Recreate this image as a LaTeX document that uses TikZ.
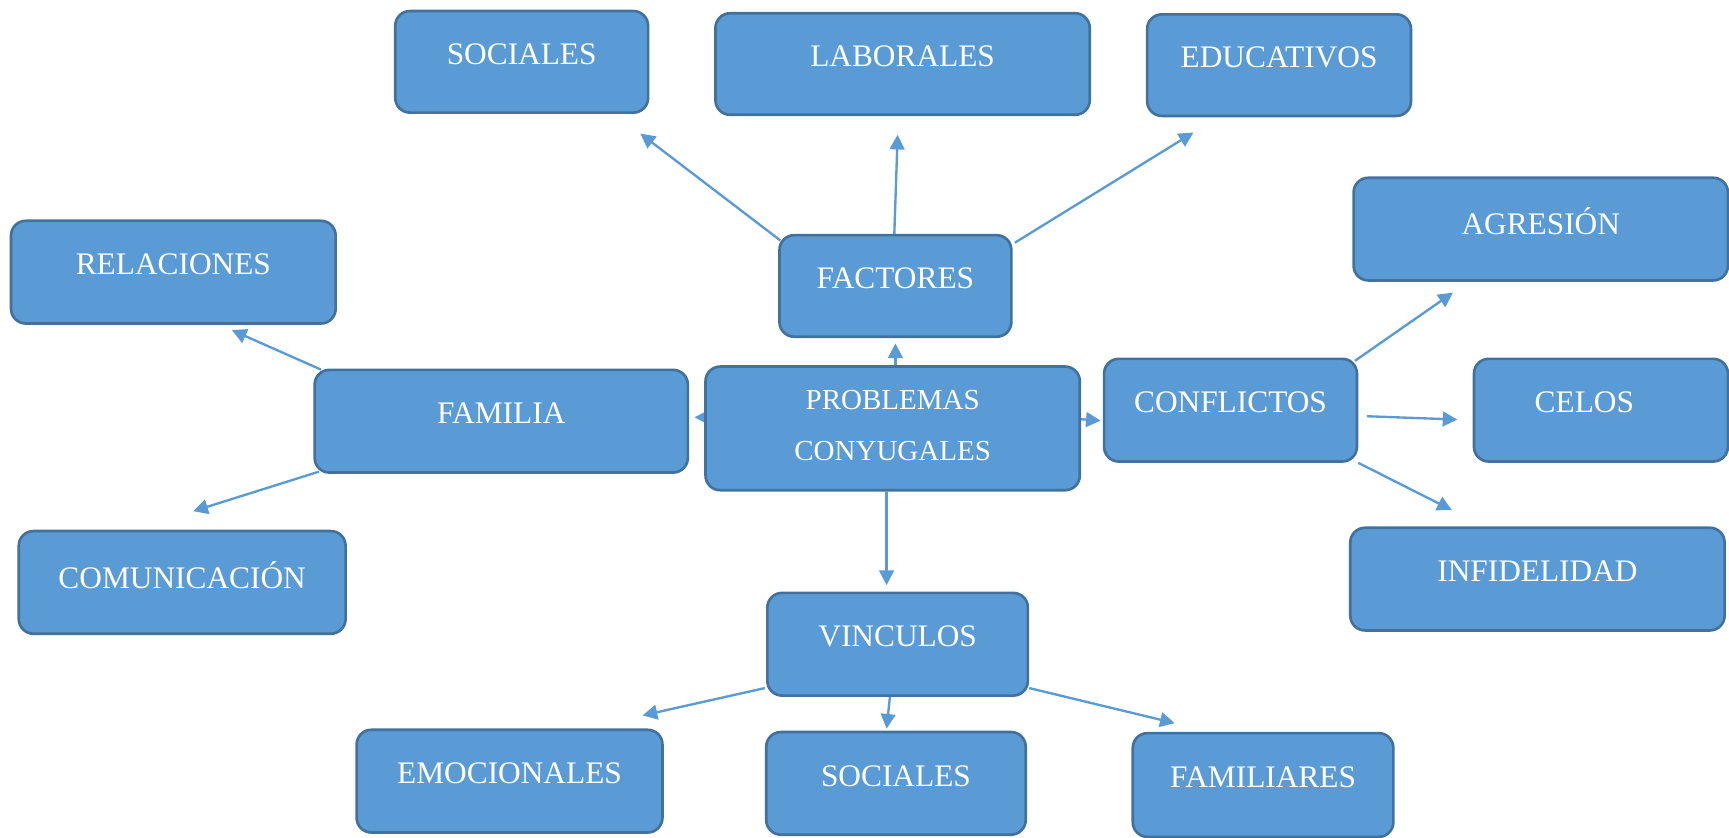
\documentclass[tikz,border=0pt]{standalone}
\usepackage{fontspec}
\setmainfont{Liberation Serif}
\usetikzlibrary{arrows.meta,backgrounds,calc}
\definecolor{boxfill}{HTML}{5B9BD5}
\definecolor{boxline}{HTML}{41719C}
\definecolor{arrowc}{HTML}{5B9BD5}
\tikzset{
 box/.style={draw=boxline, fill=boxfill, line width=1.8pt, rounded corners=10pt, text=white,
   font=\fontsize{21.3}{25}\selectfont, text depth=10.5pt, inner sep=0pt},
 conn/.style={draw=arrowc, line width=1.6pt, -{Triangle[length=10pt,width=10pt]}},
}
\begin{document}
\begin{tikzpicture}[x=0.75pt,y=-0.75pt]
\useasboundingbox (0,0) rectangle (1566,759);
% boxes
\node[box, minimum width=171.75pt, minimum height=69pt] (soc1) at (472.5,56) {SOCIALES};
\node[box, minimum width=254.25pt, minimum height=69pt] (lab) at (817.5,58) {LABORALES};
\node[box, minimum width=179.25pt, minimum height=69pt] (edu) at (1158.5,59) {EDUCATIVOS};
\node[box, minimum width=220.5pt, minimum height=69.75pt] (rel) at (157,246.5) {RELACIONES};
\node[box, minimum width=157.5pt, minimum height=69pt] (fac) at (811,259) {FACTORES};
\node[box, minimum width=254.25pt, minimum height=69.75pt] (agr) at (1395.5,207.5) {AGRESIÓN};
\node[box, minimum width=253.5pt, minimum height=69.75pt] (fam) at (454,381.5) {FAMILIA};
\node[box, minimum width=254.25pt, minimum height=84pt, align=center,
  font=\fontsize{19.7}{34.5}\selectfont, text depth=4.5pt] (prob) at (808.5,388) {PROBLEMAS\\CONYUGALES};
\node[box, minimum width=171.75pt, minimum height=69.75pt] (con) at (1114.5,371.5) {CONFLICTOS};
\node[box, minimum width=172.5pt, minimum height=69.75pt] (cel) at (1450,371.5) {CELOS\hspace*{22.5pt}};
\node[box, minimum width=254.25pt, minimum height=69.75pt] (inf) at (1392.5,524.5) {INFIDELIDAD};
\node[box, minimum width=222pt, minimum height=69.75pt] (com) at (165,527.5) {COMUNICACIÓN};
\node[box, minimum width=177pt, minimum height=69.75pt] (vin) at (813,583.5) {VINCULOS};
\node[box, minimum width=207.75pt, minimum height=69.75pt] (emo) at (461.5,707.5) {EMOCIONALES};
\node[box, minimum width=176.25pt, minimum height=69.75pt] (soc2) at (811.5,709.5) {SOCIALES};
\node[box, minimum width=177pt, minimum height=70.5pt] (fami) at (1144,711) {FAMILIARES};
% arrow tips
\coordinate (tsoc1) at (580,121);
\coordinate (tlab) at (813,122);
\coordinate (tedu) at (1081,120);
\coordinate (tfac) at (811,311);
\coordinate (tfam) at (629,378);
\coordinate (tcon) at (997,381);
\coordinate (tvin) at (803,530);
\coordinate (trel) at (210,299);
\coordinate (tcom) at (175,463);
\coordinate (tagr) at (1316,265);
\coordinate (tcel) at (1320,380);
\coordinate (tinf) at (1315,462);
\coordinate (temo) at (582,648);
\coordinate (tsoc2) at (803,660);
\coordinate (tfami) at (1064,655);
\begin{scope}[on background layer]
\draw[conn] ($(fac.north west)+(2,6)$) -- (tsoc1);
\draw[conn] ($(fac.north)+(-1,0)$) -- (tlab);
\draw[conn] ($(fac.north east)+(2,8)$) -- (tedu);
\draw[conn] ($(prob.north)+(2.5,5)$) -- (tfac);
\draw[conn] ($(prob.west)+(15,-10)$) -- (tfam);
\draw[conn] ($(prob.east)+(-10,-9)$) -- (tcon);
\draw[conn] ($(prob.south)+(-5.5,0)$) -- (tvin);
\draw[conn] ($(fam.north west)+(7,1)$) -- (trel);
\draw[conn] ($(fam.south west)+(5,-2)$) -- (tcom);
\draw[conn] ($(con.north east)+(-3,3)$) -- (tagr);
\draw[conn] ($(con.east)+(8,5.5)$) -- (tcel);
\draw[conn] (con.south east) -- (tinf);
\draw[conn] ($(vin.south west)+(-1,-8)$) -- (temo);
\draw[conn] ($(vin.south)+(-7,0)$) -- (tsoc2);
\draw[conn] ($(vin.south east)+(0,-8)$) -- (tfami);
\end{scope}
\end{tikzpicture}
\end{document}
